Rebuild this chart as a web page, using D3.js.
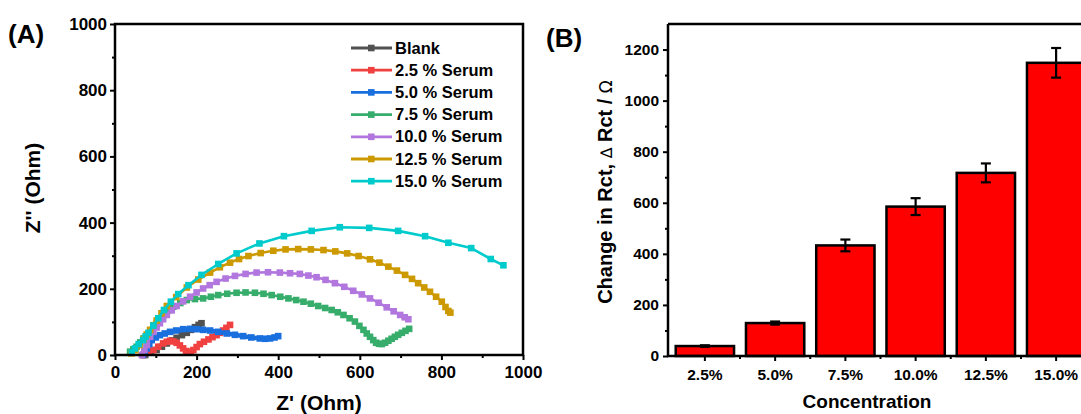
<!DOCTYPE html>
<html>
<head>
<meta charset="utf-8">
<script src="https://cdn.jsdelivr.net/npm/d3@7"></script>
<style>
body { margin: 0; background: #fff; }
text { font-family: "Liberation Sans", Arial, sans-serif; font-weight: bold; fill: #000; }
</style>
</head>
<body>
<svg id="chart" width="1081" height="414"></svg>
<script>
// Nyquist data, [Z', Z''] in Ohm
var blank = [[74,0],[88,8],[102,15],[115,25],[127,35],[140,44],[151,52],[164,60],[176,67],[186,76],[196,84],[205,91],[212,96]];
var serum25 = [[69,0],[82,8],[94,15],[106,25],[118,35],[127,40],[135,43],[143,41],[151,37],[159,29],[167,20],[174,12],[180,7],[186,10],[192,15],[200,24],[208,33],[218,40],[229,47],[239,54],[249,60],[257,67],[265,74],[273,82],[282,91]];
var serum50 = [[69,0],[73,10],[78,20],[84,33],[90,45],[100,53],[110,60],[122,65],[135,70],[150,74],[167,78],[184,79],[200,78],[216,76],[233,74],[253,70],[274,65],[294,61],[314,57],[334,53],[355,50],[368,49],[380,50],[391,53],[400,57]];
var serum75 = [[37,10],[45,17],[53,25],[62,38],[70,50],[78,58],[86,65],[102,94],[118,121],[130,134],[143,146],[160,157],[176,166],[196,169],[216,171],[235,176],[253,181],[275,185],[298,188],[320,189],[343,188],[364,185],[384,181],[405,176],[425,171],[444,166],[462,161],[480,155],[498,148],[515,142],[531,136],[546,129],[560,121],[575,111],[588,101],[599,88],[609,76],[617,65],[625,55],[633,45],[640,37],[647,34],[654,33],[662,37],[670,43],[678,49],[686,55],[694,61],[703,67],[712,73],[721,79]];
var serum100 = [[66,0],[72,15],[78,30],[86,55],[94,70],[102,83],[110,96],[118,108],[127,121],[139,135],[151,148],[167,162],[184,176],[200,189],[216,201],[232,211],[249,221],[271,231],[294,239],[320,245],[347,249],[375,250],[404,249],[429,247],[453,245],[474,240],[494,235],[516,227],[539,217],[562,206],[584,194],[605,183],[625,171],[646,158],[666,144],[683,132],[699,121],[710,114],[719,108]];
var serum125 = [[40,5],[50,15],[60,30],[70,48],[78,62],[86,76],[94,90],[102,104],[114,126],[127,148],[150,175],[176,204],[204,228],[233,249],[257,265],[282,279],[304,290],[327,299],[357,308],[388,315],[418,319],[449,320],[480,319],[511,317],[540,313],[569,307],[597,299],[625,289],[648,279],[670,267],[691,255],[711,242],[728,230],[743,217],[758,204],[772,191],[787,176],[801,161],[810,145],[817,133],[822,128]];
var serum150 = [[41,7],[49,20],[58,33],[69,45],[75,56],[82,67],[94,89],[106,111],[120,136],[137,161],[155,184],[180,211],[212,242],[253,275],[298,307],[354,337],[414,359],[482,375],[551,386],[623,384],[694,375],[760,359],[817,339],[873,323],[921,290],[952,271]];

// bar chart data
var concentrations = ["2.5%", "5.0%", "7.5%", "10.0%", "12.5%", "15.0%"];
var deltaRct = [39, 129, 433, 585, 717, 1148];
var deltaRctErr = [3, 6, 23, 33, 37, 58];

var seriesNames = ["Blank", "2.5 % Serum", "5.0 % Serum", "7.5 % Serum", "10.0 % Serum", "12.5 % Serum", "15.0 % Serum"];
var seriesData = [blank, serum25, serum50, serum75, serum100, serum125, serum150];
var seriesColors = ["#515151", "#F14040", "#1A6FDF", "#37AD6B", "#B177DE", "#CC9900", "#00CBCC"];

var svg = d3.select("#chart");

// ---------- panel A ----------
var xA = d3.scaleLinear().domain([0, 1000]).range([115, 523]);
var yA = d3.scaleLinear().domain([0, 1000]).range([355, 24]);

var curves = svg.append("g");
var line = d3.line().x(d => xA(d[0])).y(d => yA(d[1]));
seriesData.forEach(function (s, i) {
    var g = curves.append("g");
    g.append("path")
        .attr("d", line(s))
        .attr("fill", "none")
        .attr("stroke", seriesColors[i])
        .attr("stroke-width", i == 2 ? 4.5 : 2.6)
        .attr("stroke-linejoin", "round");
    g.selectAll("rect")
        .data(s)
        .enter().append("rect")
        .attr("x", d => xA(d[0]) - 3.3)
        .attr("y", d => yA(d[1]) - 3.3)
        .attr("width", 6.6)
        .attr("height", 6.6)
        .attr("fill", seriesColors[i]);
});

// frame
svg.append("rect")
    .attr("x", 115).attr("y", 24)
    .attr("width", 408).attr("height", 331)
    .attr("fill", "none").attr("stroke", "#000").attr("stroke-width", 2.5);

function styleAxis(g) {
    g.select(".domain").remove();
    g.selectAll(".tick line").attr("stroke", "#000").attr("stroke-width", 2);
    g.selectAll(".tick text").style("font-size", "17px");
}

svg.append("g")
    .attr("transform", "translate(0,355)")
    .call(d3.axisBottom(xA).tickValues(d3.range(0, 1001, 200)).tickFormat(d3.format("d")).tickSize(5).tickPadding(6))
    .call(styleAxis);
svg.append("g")
    .attr("transform", "translate(0,355)")
    .call(d3.axisBottom(xA).tickValues(d3.range(100, 1000, 200)).tickSize(3).tickFormat(""))
    .call(styleAxis);
svg.append("g")
    .attr("transform", "translate(115,0)")
    .call(d3.axisLeft(yA).tickValues(d3.range(0, 1001, 200)).tickFormat(d3.format("d")).tickSize(5).tickPadding(3))
    .call(styleAxis);
svg.append("g")
    .attr("transform", "translate(115,0)")
    .call(d3.axisLeft(yA).tickValues(d3.range(100, 1000, 200)).tickSize(3).tickFormat(""))
    .call(styleAxis);

svg.append("text").attr("x", 8).attr("y", 43).style("font-size", "26px").text("(A)");
svg.append("text")
    .attr("transform", "translate(40,188) rotate(-90)")
    .attr("text-anchor", "middle")
    .style("font-size", "21px")
    .text("Z'' (Ohm)");
svg.append("text")
    .attr("x", 319).attr("y", 410)
    .attr("text-anchor", "middle")
    .style("font-size", "21px")
    .text("Z' (Ohm)");

// legend
var legend = svg.append("g");
seriesNames.forEach(function (name, i) {
    var y = 48 + i * 22.2;
    legend.append("line")
        .attr("x1", 351).attr("x2", 392).attr("y1", y).attr("y2", y)
        .attr("stroke", seriesColors[i]).attr("stroke-width", 2.8);
    legend.append("rect")
        .attr("x", 368).attr("y", y - 3.3).attr("width", 6.6).attr("height", 6.6)
        .attr("fill", seriesColors[i]);
    legend.append("text")
        .attr("x", 395).attr("y", y + 5.5)
        .style("font-size", "16.5px")
        .text(name);
});

// ---------- panel B ----------
var xB = d3.scaleBand().domain(concentrations).range([668, 1093]).paddingInner(0.17).paddingOuter(0.11);
var yB = d3.scaleLinear().domain([0, 1300]).range([356, 24]);

svg.append("g")
    .selectAll("rect")
    .data(concentrations)
    .enter().append("rect")
    .attr("x", d => xB(d))
    .attr("y", (d, i) => yB(deltaRct[i]))
    .attr("width", xB.bandwidth())
    .attr("height", (d, i) => yB(0) - yB(deltaRct[i]))
    .attr("fill", "#ff0000")
    .attr("stroke", "#000")
    .attr("stroke-width", 2.5);

var err = svg.append("g").attr("stroke", "#000").attr("stroke-width", 2.2);
concentrations.forEach(function (c, i) {
    var cx = xB(c) + xB.bandwidth() / 2;
    var top = yB(deltaRct[i] + deltaRctErr[i]);
    var bot = yB(deltaRct[i] - deltaRctErr[i]);
    err.append("line").attr("x1", cx).attr("x2", cx).attr("y1", top).attr("y2", bot);
    err.append("line").attr("x1", cx - 5).attr("x2", cx + 5).attr("y1", top).attr("y2", top);
    err.append("line").attr("x1", cx - 5).attr("x2", cx + 5).attr("y1", bot).attr("y2", bot);
});

// axes lines
svg.append("line").attr("x1", 668).attr("x2", 1081).attr("y1", 24).attr("y2", 24)
    .attr("stroke", "#000").attr("stroke-width", 2.5);
svg.append("line").attr("x1", 668).attr("x2", 668).attr("y1", 24).attr("y2", 357)
    .attr("stroke", "#000").attr("stroke-width", 2.5);
svg.append("line").attr("x1", 667).attr("x2", 1081).attr("y1", 356).attr("y2", 356)
    .attr("stroke", "#000").attr("stroke-width", 2.5);

function styleAxisB(g) {
    g.select(".domain").remove();
    g.selectAll(".tick line").attr("stroke", "#000").attr("stroke-width", 2);
    g.selectAll(".tick text").style("font-size", "15.5px");
}

svg.append("g")
    .attr("transform", "translate(668,0)")
    .call(d3.axisLeft(yB).tickValues(d3.range(0, 1201, 200)).tickFormat(d3.format("d")).tickSize(5).tickPadding(4))
    .call(styleAxisB);
svg.append("g")
    .attr("transform", "translate(668,0)")
    .call(d3.axisLeft(yB).tickValues(d3.range(100, 1300, 200)).tickSize(3).tickFormat(""))
    .call(styleAxisB);
svg.append("g")
    .attr("transform", "translate(0,356)")
    .call(d3.axisBottom(xB).tickSize(5).tickSizeOuter(0).tickPadding(8))
    .call(styleAxisB);
// minor ticks between categories
svg.append("g")
    .selectAll("line")
    .data(concentrations.slice(1))
    .enter().append("line")
    .attr("x1", d => xB(d) - xB.step() * xB.paddingInner() / 2)
    .attr("x2", d => xB(d) - xB.step() * xB.paddingInner() / 2)
    .attr("y1", 356).attr("y2", 359)
    .attr("stroke", "#000").attr("stroke-width", 2);

svg.append("text").attr("x", 546).attr("y", 47).style("font-size", "26px").text("(B)");
var yt = svg.append("text")
    .attr("transform", "translate(612,192) rotate(-90)")
    .attr("text-anchor", "middle")
    .style("font-size", "20px");
yt.append("tspan").text("Change in Rct, ");
yt.append("tspan").style("font-weight", "normal").style("font-family", "DejaVu Sans").style("font-size", "16px").text("\u2206");
yt.append("tspan").text(" Rct / ");
yt.append("tspan").style("font-weight", "normal").style("font-family", "DejaVu Sans").style("font-size", "17px").text("\u03A9");
svg.append("text")
    .attr("x", 867).attr("y", 408)
    .attr("text-anchor", "middle")
    .style("font-size", "19px")
    .text("Concentration");
</script>
</body>
</html>
